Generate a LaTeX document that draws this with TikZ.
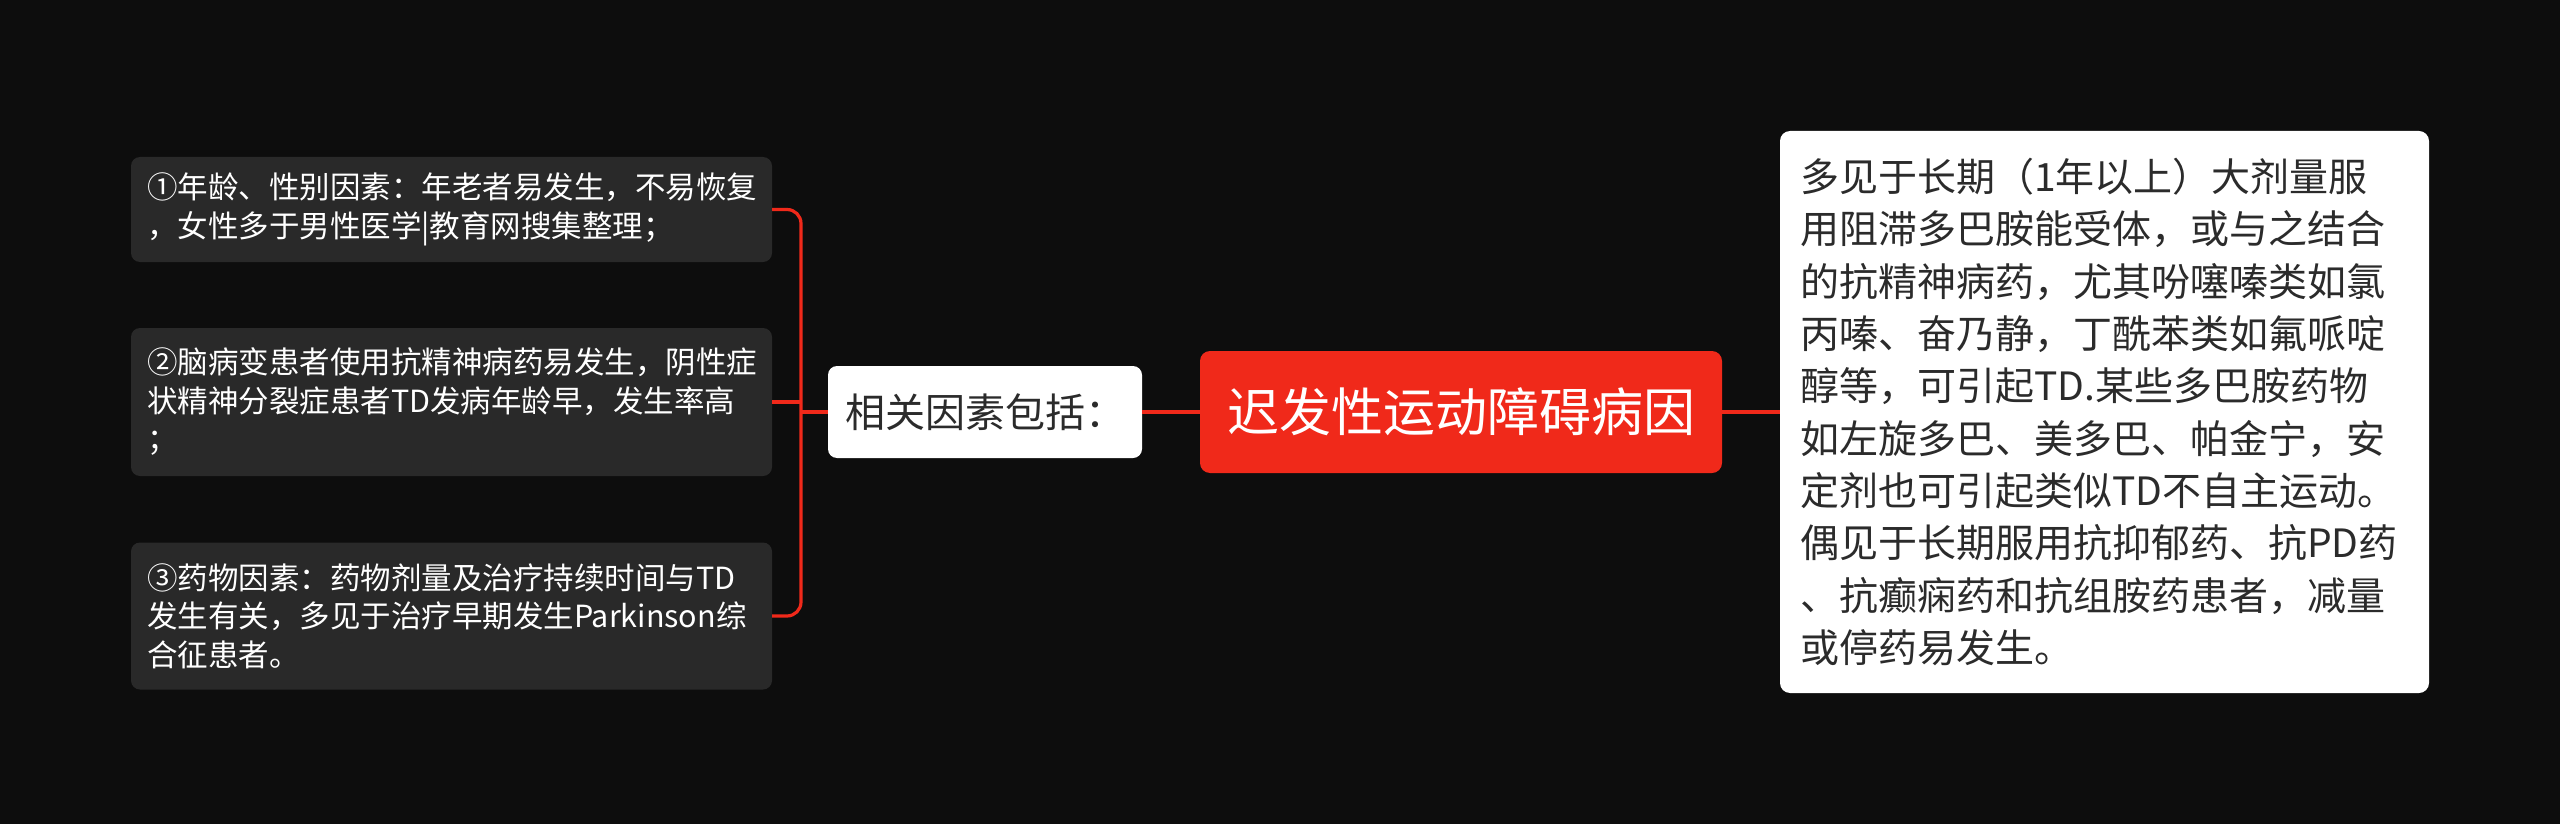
\documentclass[tikz,border=0pt]{standalone}
\usepackage{fontspec}
\setmainfont{Noto Sans CJK SC}
\definecolor{bg}{HTML}{0D0D0D}
\definecolor{leaf}{HTML}{292929}
\definecolor{accent}{HTML}{F0291A}
\definecolor{darktext}{HTML}{2B2B2B}
\begin{document}
\begin{tikzpicture}[x=1pt,y=-1pt,
  conn/.style={draw=accent,line width=3.2pt},
  leafbox/.style={fill=leaf,rounded corners=9pt,minimum width=641pt,inner xsep=16pt,inner ysep=0pt,
    text width=609pt,align=left,text=white,font=\fontsize{30.5}{38.5}\selectfont},
  midbox/.style={fill=white,rounded corners=9pt,minimum width=314pt,minimum height=92pt,inner sep=0pt,
    text=darktext,font=\fontsize{40}{48}\selectfont},
  rootbox/.style={fill=accent,rounded corners=10pt,minimum width=522pt,minimum height=122pt,inner sep=0pt,
    text=white,font=\fontsize{52}{62}\selectfont},
  notebox/.style={fill=white,rounded corners=10pt,minimum width=649pt,minimum height=562pt,inner xsep=20pt,
    inner ysep=0pt,text width=609pt,align=left,text=darktext,font=\fontsize{39}{52.3}\selectfont}]
\useasboundingbox (0,0) rectangle (2560,824);
\fill[bg] (0,0) rectangle (2560,824);
\node[rootbox] (root) at (1461,412) {迟发性运动障碍病因};
\node[midbox] (mid) at (985,412) {相关因素包括：};
\node[notebox] (note) at (2104.5,412) {多见于长期（1年以上）大剂量服\\用阻滞多巴胺能受体，或与之结合\\的抗精神病药，尤其吩噻嗪类如氯\\丙嗪、奋乃静，丁酰苯类如氟哌啶\\醇等，可引起TD.某些多巴胺药物\\如左旋多巴、美多巴、帕金宁，安\\定剂也可引起类似TD不自主运动。\\偶见于长期服用抗抑郁药、抗PD药\\、抗癫痫药和抗组胺药患者，减量\\或停药易发生。};
\node[leafbox,minimum height=105pt] (b1) at (451.5,209.5) {①年龄、性别因素：年老者易发生，不易恢复\\，女性多于男性医学|教育网搜集整理；};
\node[leafbox,minimum height=148pt] (b2) at (451.5,402) {②脑病变患者使用抗精神病药易发生，阴性症\\状精神分裂症患者TD发病年龄早，发生率高\\；};
\node[leafbox,minimum height=147pt] (b3) at (451.5,616) {③药物因素：药物剂量及治疗持续时间与TD\\发生有关，多见于治疗早期发生Parkinson综\\合征患者。};
\coordinate (j) at (801,412);
\draw[conn] (root.east) -- (note.west);
\draw[conn] (root.west) -- (mid.east);
\draw[conn] (mid.west) -- (j);
\draw[conn,rounded corners=14pt] (b1.east) -| (j) |- (b3.east);
\draw[conn] (b2.east) -- (b2.east -| j);
\end{tikzpicture}
\end{document}
